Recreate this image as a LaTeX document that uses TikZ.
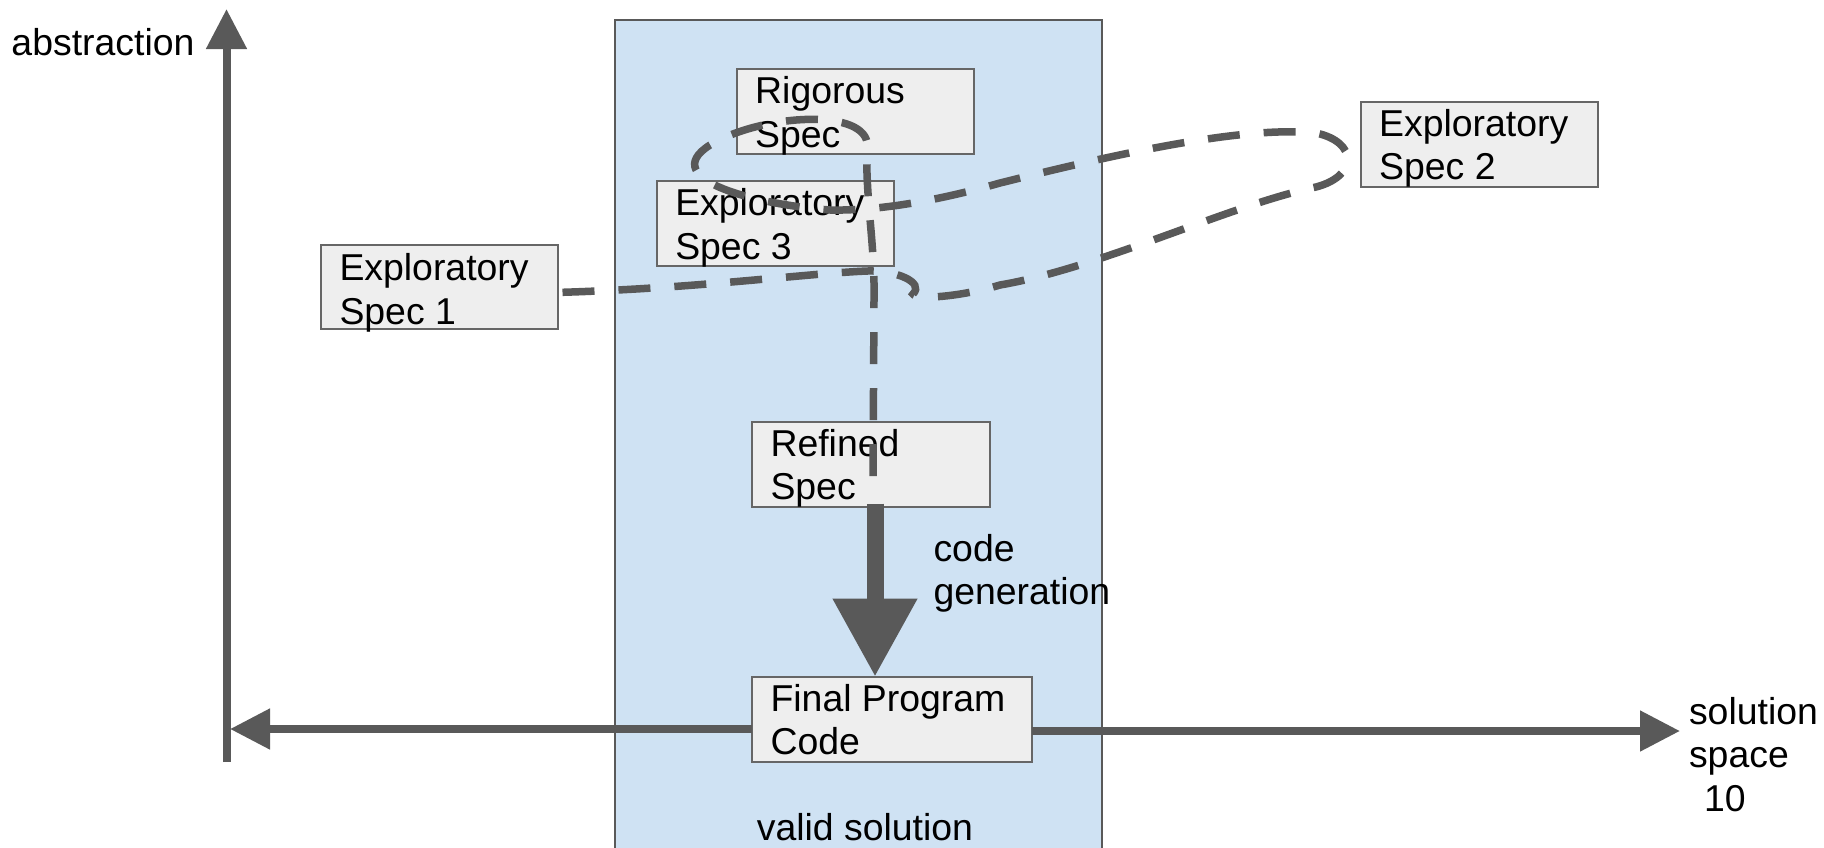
\documentclass[tikz,border=0pt]{standalone}
\usepackage{fontspec}
\setmainfont{Liberation Sans}
\usetikzlibrary{arrows.meta,calc}
\definecolor{linegray}{HTML}{595959}
\definecolor{boxedge}{HTML}{666666}
\definecolor{boxfill}{HTML}{EEEEEE}
\definecolor{zone}{HTML}{CFE2F3}
\begin{document}
\begin{tikzpicture}[x=1pt,y=-1pt,
  every node/.style={inner sep=0pt, outer sep=0pt},
  lbl/.style={font=\fontsize{37.4pt}{43.5pt}\selectfont, align=left, text=black},
  specbox/.style={rectangle, draw=boxedge, line width=2pt, fill=boxfill},
  axis/.style={draw=linegray, line width=8pt, -{Triangle[width=39pt,length=40pt]}},
  gen/.style={draw=linegray, line width=17pt, -{Triangle[width=80pt,length=78pt]}},
  dashline/.style={draw=linegray, line width=7.5pt, dash pattern=on 32pt off 24pt}]
\useasboundingbox (0,0) rectangle (1824,847);

% region of valid solutions
\node[rectangle, draw=linegray, line width=2.7pt, fill=zone,
      minimum width=487pt, minimum height=840pt] (valid) at (858.5,440) {};
\node[lbl, anchor=base] (validT) at (865,840) {valid solution};

% axes
\coordinate (ybot) at (226.5,762);
\coordinate (ytop) at (226.5,9);
\coordinate (xleft) at (230,729);
\coordinate (xright) at (1680,731);
\draw[axis] (ybot) -- (ytop);
\node[lbl, anchor=base west] (absT) at (11.5,55) {abstraction};
\node[lbl, anchor=north west] (solT) at (1689,697) {solution\\space\\\hspace*{15pt}10};

% spec boxes
\node[specbox, minimum width=237.6pt, minimum height=84.7pt] (rig) at (855.5,111.7) {};
\node[specbox, minimum width=237.3pt, minimum height=85pt] (s3) at (775.4,223.5) {};
\node[specbox, minimum width=237.7pt, minimum height=85pt] (s2) at (1479.5,144.2) {};
\node[specbox, minimum width=237pt, minimum height=84pt] (s1) at (439.5,287.3) {};
\node[specbox, minimum width=238pt, minimum height=85pt] (ref) at (871,464.2) {};
\node[specbox, minimum width=279.7pt, minimum height=85pt] (fin) at (891.9,719.2) {};

\draw[axis] (fin.west |- xleft) -- (xleft);
\draw[axis] (fin.east |- xright) -- (xright);

\node[lbl, anchor=north west] (rigT) at ($(rig.north west)+(18.5,7.5)$) {Rigorous\\Spec};
\node[lbl, anchor=north west] (s3T) at ($(s3.north west)+(18.5,7.5)$) {Exploratory\\Spec 3};
\node[lbl, anchor=north west] (s2T) at ($(s2.north west)+(18.5,7.5)$) {Exploratory\\Spec 2};
\node[lbl, anchor=north west] (s1T) at ($(s1.north west)+(18.5,8.5)$) {Exploratory\\Spec 1};
\node[lbl, anchor=north west] (refT) at ($(ref.north west)+(18.5,7.5)$) {Refined\\Spec};
\node[lbl, anchor=north west] (finT) at ($(fin.north west)+(18.5,7.5)$) {Final Program\\Code};

% exploration path through the specs
\draw[dashline] (s1.east) ++(4.5,5)
  .. controls (700,288) and (800,274) .. (867,271)
  .. controls (895,270) and (925,282) .. (913,294)
  .. controls (916,300) and (960,297) .. (1000,285)
  .. controls (1100,268) and (1230,205) .. (1316,187)
  .. controls (1358,176) and (1358,142) .. (1316,133)
  .. controls (1240,125) and (1100,158) .. (1000,183)
  .. controls (940,200) and (880,211) .. (830,210)
  .. controls (760,205) and (655,180) .. (710,145)
  .. controls (760,115) and (860,108) .. (867,142)
  .. controls (865,200) and (875,240) .. (874,300)
  -- ($(ref.north)+(2,56)$);

% code generation step
\draw[gen] ($(ref.south)+(4,-3)$) coordinate (gtop) -- (gtop |- fin.north);
\node[lbl, anchor=north west] (genT) at (933.5,534) {code\\generation};
\end{tikzpicture}
\end{document}
